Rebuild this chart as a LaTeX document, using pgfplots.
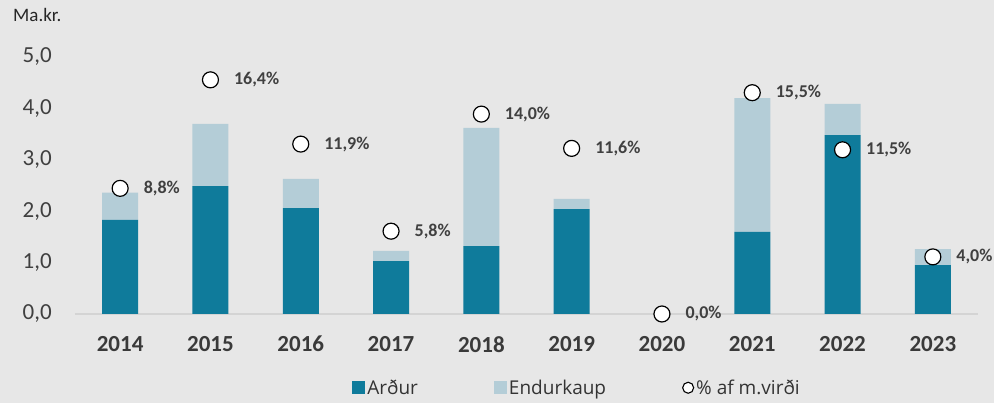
\documentclass[border=0pt]{standalone}
\usepackage{fontspec}
\setmainfont{Carlito}
\newfontfamily\legfont{Open Sans}
\usepackage{pgfplots}
\pgfplotsset{compat=1.18}
\definecolor{bgc}{HTML}{E7E7E7}
\definecolor{ardur}{HTML}{0F7B9B}
\definecolor{endur}{HTML}{B4CDD7}
\definecolor{txt}{HTML}{404040}
\definecolor{axgray}{HTML}{D4D4D4}
\pgfplotstableread{
x a e
0 1.83 0.53
1 2.49 1.21
2 2.06 0.57
3 1.03 0.20
4 1.32 2.30
5 2.04 0.20
6 0.00 0.00
7 1.60 2.60
8 3.48 0.61
9 0.95 0.31
}\bars
\pgfplotstableread{
x p lab
0 8.8 8,8\%
1 16.4 16,4\%
2 11.9 11,9\%
3 5.8 5,8\%
4 14.0 14,0\%
5 11.6 11,6\%
6 0.0 0,0\%
7 15.5 15,5\%
8 11.5 11,5\%
9 4.0 4,0\%
}\pct
\begin{document}
\begin{tikzpicture}[x=1pt,y=1pt]
\fill[bgc] (0,0) rectangle (994,403);
\useasboundingbox (0,0) rectangle (994,403);
\node[anchor=north west, font=\fontsize{19}{21}\selectfont, text=black!85, inner sep=0] at (13,395) {Ma.kr.};
\begin{axis}[at={(75pt,89pt)}, anchor=south west, scale only axis,
  width=903pt, height=257pt,
  xmin=-0.5, xmax=9.5, ymin=0, ymax=5,
  ybar stacked, bar width=36pt,
  axis x line*=bottom, axis y line*=left,
  x axis line style={draw=axgray, line width=1.2pt, -},
  y axis line style={draw=none},
  major tick length=0pt,
  xtick={0,...,9},
  xticklabels={2014,2015,2016,2017,2018,2019,2020,2021,2022,2023},
  xticklabel style={font=\fontsize{23}{25}\selectfont\bfseries, text=txt!90!black, anchor=north, inner sep=0pt, yshift=-22pt},
  ytick={0,1,2,3,4,5},
  yticklabel style={font=\fontsize{23}{25}\selectfont, text=txt, anchor=east, inner sep=0pt, xshift=-23pt,
    /pgf/number format/.cd, use comma, fixed, fixed zerofill, precision=1, assume math mode=true},
  clip=false,
  legend style={at={(0.556,-0.287)}, anchor=center, draw=none, fill=none,
    font=\legfont\fontsize{19}{21}\selectfont, text=txt!80!black,
    legend columns=3, nodes={inner sep=2pt},
    /tikz/every even column/.append style={column sep=74pt}},
]
\addplot[fill=ardur, draw=none, legend image code/.code={\fill[ardur] (0pt,-6.5pt) rectangle (13pt,6.5pt);}] table[x=x, y=a] {\bars};
\addlegendentry{Arður}
\addplot[fill=endur, draw=none, legend image code/.code={\fill[endur] (0pt,-6.5pt) rectangle (13pt,6.5pt);}] table[x=x, y=e] {\bars};
\addlegendentry{Endurkaup}
\addlegendimage{legend image code/.code={\draw[black, fill=white, line width=1.1pt] (6pt,0pt) circle (5.5pt);}}
\addlegendentry{\% af m.virði}
\end{axis}
\begin{axis}[at={(75pt,89pt)}, anchor=south west, scale only axis,
  width=903pt, height=257pt,
  xmin=-0.5, xmax=9.5, ymin=0, ymax=18, hide axis, clip=false]
\addplot[only marks, mark=*, mark size=8pt, mark options={fill=white, draw=black, line width=1.2pt},
  nodes near coords, point meta=explicit symbolic,
  nodes near coords style={anchor=west, inner sep=0pt, xshift=23pt, yshift=0pt,
    font=\fontsize{18}{20}\selectfont\bfseries, text=txt}]
  table[x=x, y=p, meta=lab] {\pct};
\end{axis}
\end{tikzpicture}
\end{document}
